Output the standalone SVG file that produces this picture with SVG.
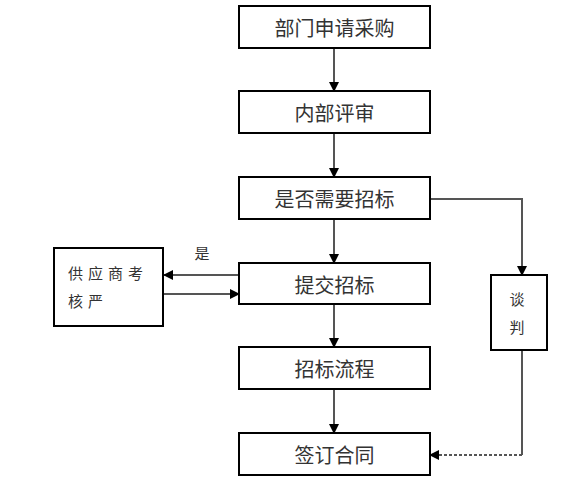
<svg xmlns="http://www.w3.org/2000/svg" width="564" height="489" viewBox="0 0 564 489">
<defs>
<marker id="arr" markerWidth="10" markerHeight="10" refX="9" refY="5" orient="auto" markerUnits="userSpaceOnUse">
<path d="M0,0 L10,5 L0,10 Z" fill="#000"/>
</marker>
</defs>
<style>
.box{fill:#fff;stroke:#000;stroke-width:2}
.t{font-family:"Noto Sans CJK SC","Liberation Sans",sans-serif;fill:#333;text-anchor:middle;dominant-baseline:central}
.main{font-size:20px}
.small{font-size:15px}
.ln{fill:none;stroke:#555;stroke-width:2}
</style>
<rect width="564" height="489" fill="#fff"/>
<g id="connectors">
<line class="ln" x1="334" y1="48" x2="334" y2="91" marker-end="url(#arr)"/>
<line class="ln" x1="334" y1="133" x2="334" y2="177" marker-end="url(#arr)"/>
<line class="ln" x1="334" y1="219" x2="334" y2="263" marker-end="url(#arr)"/>
<line class="ln" x1="334" y1="304" x2="334" y2="347" marker-end="url(#arr)"/>
<line class="ln" x1="334" y1="389" x2="334" y2="433" marker-end="url(#arr)"/>
<polyline class="ln" points="429,199 522,199 522,275" marker-end="url(#arr)"/>
<line class="ln" x1="522" y1="350" x2="522" y2="455"/>
<line class="ln" x1="522" y1="455" x2="430" y2="455" stroke-dasharray="3,2" marker-end="url(#arr)"/>
<line class="ln" x1="240" y1="275" x2="164" y2="275" marker-end="url(#arr)"/>
<line class="ln" x1="163" y1="294" x2="239" y2="294" marker-end="url(#arr)"/>
<text class="t small" x="202" y="252">是</text>
</g>
<g id="n1"><rect class="box" x="239" y="6" width="191" height="42"/><text class="t main" x="334.5" y="27">部门申请采购</text></g>
<g id="n2"><rect class="box" x="239" y="91" width="191" height="42"/><text class="t main" x="334.5" y="112">内部评审</text></g>
<g id="n3"><rect class="box" x="239" y="177" width="191" height="42"/><text class="t main" x="334.5" y="198">是否需要招标</text></g>
<g id="n4"><rect class="box" x="239" y="263" width="191" height="41"/><text class="t main" x="334.5" y="284">提交招标</text></g>
<g id="n5"><rect class="box" x="239" y="347" width="191" height="42"/><text class="t main" x="334.5" y="368">招标流程</text></g>
<g id="n6"><rect class="box" x="239" y="433" width="191" height="42"/><text class="t main" x="334.5" y="454">签订合同</text></g>
<g id="n7"><rect class="box" x="54" y="248" width="109" height="78"/>
<text class="t small" x="68" y="272" style="text-anchor:start;letter-spacing:5px">供应商考</text>
<text class="t small" x="68" y="300" style="text-anchor:start;letter-spacing:5px">核严</text></g>
<g id="n8"><rect class="box" x="491" y="275" width="56" height="75"/>
<text class="t small" x="517" y="298">谈</text>
<text class="t small" x="517" y="326">判</text></g>
</svg>
